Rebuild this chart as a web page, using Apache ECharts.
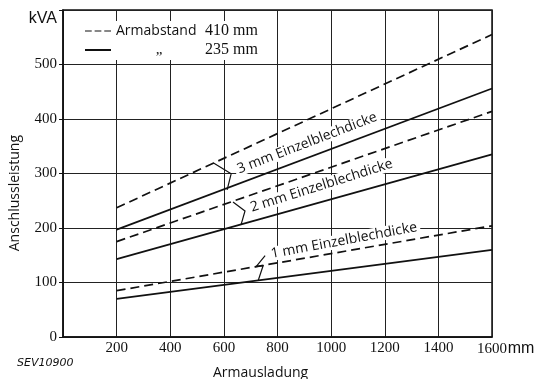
<!DOCTYPE html>
<html>
<head>
<meta charset="utf-8">
<script src="https://cdn.jsdelivr.net/npm/echarts@6/dist/echarts.min.js"></script>
<style>
  html, body { margin: 0; padding: 0; background: #fff; }
  #chart { width: 539px; height: 379px; }
</style>
</head>
<body>
<div id="chart"></div>
<script>
// Armausladung (mm), ends of each straight line
var xEnds = [200, 1600];
// kVA values at 200 and 1600 mm
var dashed3 = [237, 555];
var solid3 = [197, 456];
var dashed2 = [175, 414];
var solid2 = [143, 335];
var dashed1 = [85, 204];
var solid1 = [70, 160];

var xTicks = [200, 400, 600, 800, 1000, 1200, 1400, 1600];
var yTicks = [0, 100, 200, 300, 400, 500];

// labels on the curves: [text, x, y, angle in degrees]
var curveLabels = [
  ['3 mm Einzelblechdicke', 642, 305, 21],
  ['2 mm Einzelblechdicke', 690, 235, 17.5],
  ['1 mm Einzelblechdicke', 765, 151, 10.5]
];

function pts(ys) {
  return xEnds.map(function (x, i) { return [x, ys[i]]; });
}

var dashType = [9, 5];
function mk(name, ys, dashed) {
  return {
    name: name,
    type: 'line',
    data: pts(ys),
    symbol: 'none',
    silent: true,
    lineStyle: { color: '#111', width: 1.7, type: dashed ? dashType : 'solid' },
    itemStyle: { color: '#111' }
  };
}

var myChart = echarts.init(document.getElementById('chart'));

var option = {
  backgroundColor: '#fff',
  animation: false,
  grid: {
    left: 63, right: 47, top: 10, bottom: 42,
    show: true, borderColor: '#111', borderWidth: 1.5
  },
  legend: {
    orient: 'vertical',
    left: 79,
    top: 21,
    itemWidth: 26,
    itemHeight: 2,
    itemGap: 3,
    padding: [2, 8, 2, 6],
    backgroundColor: '#fff',
    data: [
      { name: '410', icon: 'path://M0,0H7V1H0Z M10,0H17V1H10Z M20,0H27V1H20Z' },
      { name: '235', icon: 'rect' }
    ],
    itemStyle: { color: '#111' },
    selectedMode: false,
    formatter: function (name) {
      return name === '410' ? '{a|Armabstand}{b|410 mm}' : '{c|\u201E}{b|235 mm}';
    },
    textStyle: {
      color: '#111',
      rich: {
        a: { fontFamily: 'Open Sans', fontSize: 14, width: 86, lineHeight: 15 },
        c: { fontFamily: 'Liberation Serif', fontSize: 15, width: 86, align: 'center', lineHeight: 15 },
        b: { fontFamily: 'Liberation Serif', fontSize: 16, width: 56, align: 'right', lineHeight: 15 }
      }
    }
  },
  xAxis: {
    type: 'value',
    min: 0, max: 1600, interval: 200,
    axisLine: { lineStyle: { color: '#111', width: 1.5 } },
    axisTick: { show: false },
    splitLine: { lineStyle: { color: '#222', width: 1 } },
    axisLabel: {
      margin: 4,
      color: '#111',
      fontFamily: 'Liberation Serif',
      fontSize: 15,
      formatter: function (v) {
        if (xTicks.indexOf(v) < 0) return '';
        if (v === 1600) return '{h|}' + v + '{u|mm}';
        return String(v);
      },
      rich: {
        h: { width: 28 },
        u: { fontFamily: 'Liberation Sans', fontSize: 16, width: 28, align: 'left' }
      }
    }
  },
  yAxis: {
    type: 'value',
    min: 0, max: 600, interval: 100,
    axisLine: { show: true, lineStyle: { color: '#111', width: 1.5 } },
    axisTick: { show: true, length: 4, lineStyle: { color: '#111' } },
    splitLine: { lineStyle: { color: '#222', width: 1 } },
    axisLabel: {
      margin: 6,
      color: '#111',
      fontFamily: 'Liberation Serif',
      fontSize: 15,
      formatter: function (v) {
        if (v === 600) return '{k|kVA}';
        return yTicks.indexOf(v) >= 0 ? String(v) : '';
      },
      rich: {
        k: { fontFamily: 'Liberation Sans', fontSize: 16, padding: [18, 0, 0, 0] }
      }
    }
  },
  series: [
    mk('410', dashed3, true),
    mk('235', solid3, false),
    mk('410', dashed2, true),
    mk('235', solid2, false),
    mk('410', dashed1, true),
    mk('235', solid1, false)
  ]
};

myChart.setOption(option);

// labels, little brackets and titles
var brackets = [
  [[-22, -8], [-4, 3], [-8, 19]],
  [[-15, -7], [-3, 2], [-7, 16]],
  [[-3, 1], [-12, 12], [-5, 11], [-10, 26]]
];

var graphics = [];
curveLabels.forEach(function (l, i) {
  var p = myChart.convertToPixel({ gridIndex: 0 }, [l[1], l[2]]);
  graphics.push({
    type: 'text',
    x: p[0], y: p[1],
    rotation: l[3] * Math.PI / 180,
    silent: true,
    style: {
      text: l[0],
      font: '14px "Open Sans"',
      fill: '#111',
      align: 'left',
      verticalAlign: 'middle',
      backgroundColor: '#fff',
      padding: [0, 3]
    },
    z: 10
  });
  graphics.push({
    type: 'polyline',
    x: p[0], y: p[1],
    silent: true,
    shape: { points: brackets[i] },
    style: { stroke: '#111', lineWidth: 1.2, fill: null },
    z: 11
  });
});

graphics.push({
  type: 'text', left: 8, top: 135, rotation: Math.PI / 2, silent: true,
  style: { text: 'Anschlussleistung', font: '14px "Open Sans"', fill: '#111' }
});
graphics.push({
  type: 'text', x: 213, y: 373, silent: true,
  style: { text: 'Armausladung', font: '14px "Open Sans"', fill: '#111', verticalAlign: 'middle' }
});
graphics.push({
  type: 'text', x: 17, y: 363, silent: true,
  style: { text: 'SEV10900', font: 'italic 11px "DejaVu Sans"', fill: '#111', verticalAlign: 'middle' }
});

myChart.setOption({ graphic: graphics });
</script>
</body>
</html>
